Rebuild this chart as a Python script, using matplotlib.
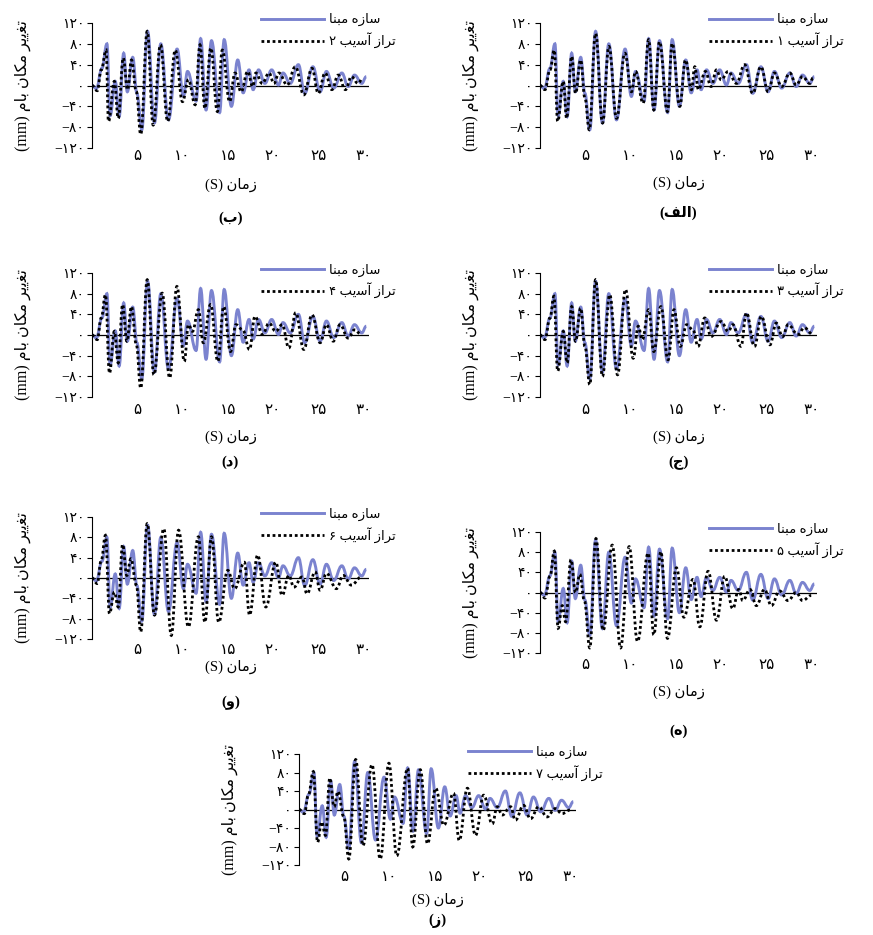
import matplotlib
matplotlib.use("Agg")
import matplotlib.pyplot as plt
from matplotlib.lines import Line2D
from matplotlib.path import Path
from matplotlib.patches import PathPatch

# ---------------- data (extrema, time in s, disp. in mm)
T_BASE = [0, 0.48, 1.1, 1.65, 2.0, 2.57, 3.0, 3.5, 3.9, 4.5, 4.96, 5.5, 6.14, 6.9, 7.6, 8.45,
          9.4, 10.1, 10.55, 11.5, 12.0, 12.6, 13.2, 14.1, 14.6, 15.4, 16.1, 16.7, 17.35, 17.8,
          18.4, 19.1, 19.85, 20.6, 21.1, 21.9, 22.8, 23.5, 24.4, 25.2, 25.9, 26.7, 27.6, 28.3,
          29.0, 29.8, 30.3]
V_BASE = [0, -6, 33, 80, -58, 8, -60, 62, -12, 54, -15, -85, 104, -72, 80, -66,
          70, -21, 27, -30, 90, -47, 86, -52, 88, -40, 49, -14, 30, -8,
          30, 4, 30, 1, 24, 4, 40, -15, 36, -12, 27, -5, 24, -2,
          20, 4, 17]

T_DMG1 = [0, 0.55, 1.1, 1.58, 1.95, 2.57, 2.94, 3.5, 3.93, 4.49, 4.96, 5.44, 6.14, 6.91, 7.61,
          8.46, 9.38, 10.1, 10.55, 11.4, 12.0, 12.57, 13.2, 14.08, 14.6, 15.44, 16.07, 16.73,
          17.1, 17.5, 18.27, 18.9, 19.5, 20.0, 20.8, 21.7, 22.6, 23.5, 24.4, 25.2, 25.9, 26.7,
          27.6, 28.3, 29.0, 29.8, 30.15]
V_DMG1 = [0, -8, 30, 68, -69, 8, -63, 56, -15, 49, -24, -85, 100, -72, 75,
          -63, 62, -12, 27, -34, 88, -47, 84, -50, 81, -40, 49, -8,
          36, -8, 27, -2, 30, 11, 27, 4, 40, -15, 36, -12, 24, -2,
          24, 1, 17, 4, 14]

T_DMG2 = [0, 0.58, 1.02, 1.56, 1.82, 2.47, 2.9, 3.45, 3.93, 4.36, 4.9, 5.38, 6.1, 6.76, 7.56,
          8.36, 9.2, 10.0, 10.65, 11.4, 11.93, 12.47, 13.13, 13.85, 14.4, 15.2, 15.8, 16.47,
          17.2, 17.75, 18.1, 18.8, 19.56, 20.1, 20.65, 21.56, 22.47, 23.4, 24.3, 25.0, 25.75,
          26.5, 27.2, 28.0, 28.65, 29.4, 29.9]
V_DMG2 = [0, -10, 30, 68, -69, 8, -63, 53, -8, 49, -12, -94, 104, -76, 78,
          -69, 68, -31, 11, -37, 78, -44, 72, -50, 68, -31, 24, -12,
          27, -2, 24, 4, 24, 4, 24, 1, 36, -18, 33, -15, 24,
          -8, 20, -8, 17, 4, 14]

T_DMG3 = [0, 0.55, 1.1, 1.54, 1.95, 2.57, 3.0, 3.5, 3.93, 4.49, 4.96, 5.5, 6.14, 6.9, 7.7,
          8.57, 9.45, 10.3, 10.85, 11.3, 12.0, 12.57, 13.35, 14.15, 14.8, 15.5, 16.2, 16.9,
          17.46, 18.2, 18.9, 20.0, 20.8, 21.3, 22.2, 22.8, 23.7, 24.45, 25.4, 26.1, 26.8,
          27.4, 28.5, 29.2, 30.15]
V_DMG3 = [0, -9, 33, 75, -70, 7, -54, 55, -12, 52, -22, -96, 107, -80, 78,
          -77, 88, -45, 17, -9, 49, -32, 55, -48, 49, -22, 20, 10,
          -22, 33, -3, 26, 7, 20, -22, 43, -22, 36, -19, 23, -3,
          20, 1, 14, 1]

T_DMG4 = [0, 0.58, 1.02, 1.49, 1.93, 2.47, 2.9, 3.38, 3.85, 4.36, 4.9, 5.38, 6.1, 6.84, 7.75,
          8.58, 9.38, 10.2, 10.65, 11.1, 11.75, 12.3, 13.1, 13.9, 14.55, 15.3, 15.9, 16.65,
          17.4, 18.0, 18.84, 19.56, 20.3, 21.0, 21.75, 22.5, 23.4, 24.3, 25.2, 25.9, 26.65,
          27.4, 28.3, 29.0, 29.75]
V_DMG4 = [0, -9, 33, 78, -74, 7, -54, 59, -12, 55, -19, -103, 107, -77, 81,
          -83, 94, -51, 20, 7, 49, -15, 59, -51, 55, -32, 20, 10,
          -28, 36, 1, 23, 7, 20, -25, 43, -28, 39, -15, 20, -12,
          20, -6, 10, 1]

T_DMG5 = [0, 0.55, 1.1, 1.58, 2.0, 2.46, 2.83, 3.42, 3.93, 4.4, 4.9, 5.5, 6.18, 6.98, 7.98,
          8.9, 9.85, 10.77, 11.95, 12.57, 13.35, 14.08, 15.07, 15.9, 16.9, 17.65, 18.57, 19.5,
          20.4, 21.3, 21.95, 22.4, 23.2, 23.9, 24.8, 25.55, 26.47, 27.4, 28.3, 29.0, 29.96]
V_DMG5 = [0, -11, 32, 82, -71, -26, -58, 65, 0, 36, -16, -110, 107, -75, 94,
          -110, 91, -97, 78, -84, 81, -91, 49, -49, 26, -68, 42, -55,
          32, -32, 6, -16, 6, -26, 6, -26, 3, -16, 0, -16, -6]

T_DMG6 = [0, 0.58, 1.02, 1.49, 1.93, 2.47, 2.9, 3.38, 3.85, 4.3, 4.9, 5.38, 6.1, 6.9, 7.93,
          8.76, 9.56, 10.65, 11.75, 12.47, 13.2, 14.0, 15.0, 15.75, 16.84, 17.4, 18.3, 19.2,
          20.3, 21.0, 21.75, 22.3, 23.2, 23.75, 24.65, 25.2, 25.9, 27.0, 27.75, 28.65, 29.75]
V_DMG6 = [0, -11, 35, 84, -70, -28, -57, 66, 5, 38, -14, -106, 107, -73, 97,
          -113, 94, -96, 81, -87, 81, -87, 15, -21, 31, -73, 45, -57,
          31, -34, 5, -18, 2, -31, 12, -24, 9, -21, 5, -14, 2]

T_DMG7 = [0, 0.59, 1.03, 1.58, 2.05, 2.5, 2.93, 3.4, 3.88, 4.3, 4.95, 5.5, 6.26, 7.07, 8.06,
          8.97, 9.93, 10.8, 12.0, 12.56, 13.4, 14.2, 15.1, 16.0, 17.07, 17.7, 18.6, 19.5,
          20.4, 21.35, 21.9, 22.45, 23.37, 23.9, 24.8, 25.57, 26.48, 27.4, 28.3, 29.05, 29.96]
V_DMG7 = [0, -9, 31, 82, -71, -27, -56, 68, 6, 39, -16, -107, 108, -78, 97,
          -107, 100, -100, 89, -81, 86, -74, 46, -34, 35, -67, 46, -56,
          31, -31, 6, -12, 6, -23, 9, -20, 6, -16, 2, -9, -1]

Y_TICKS = [-120, -80, -40, 0, 40, 80, 120]
Y_TICK_LABELS = ["\u2212\u06f1\u06f2\u06f0", "\u2212\u06f8\u06f0", "\u2212\u06f4\u06f0", "\u06f0",
                 "\u06f4\u06f0", "\u06f8\u06f0", "\u06f1\u06f2\u06f0"]
X_TICKS = [5, 10, 15, 20, 25, 30]
X_TICK_LABELS = ["\u06f5", "\u06f1\u06f0", "\u06f1\u06f5", "\u06f2\u06f0", "\u06f2\u06f5", "\u06f3\u06f0"]

# Persian strings written in visual order with presentation forms
LBL_BASE = "\ufe8e\ufee8\ufe92\ufee3 \ufee9\ufeaf\ufe8e\ufeb3"           # سازه مبنا
LBL_DMG = "{} \ufe90\ufbfe\ufeb3\ufe81 \ufeaf\ufe8d\ufeae\ufe97"            # تراز آسیب n
XLABEL = "(S) \ufee5\ufe8e\ufee3\ufeaf"                                   # زمان (S)
YLABEL = ("(mm) \ufee1\ufe8e\ufe91 \ufee5\ufe8e\ufb91\ufee3 "
          "\ufeae\ufbfe\ufbfe\ufed0\ufe97")                               # تغییر مکان بام (mm)
CAPTIONS = ["(\ufed2\ufedf\ufe8d)", "(\ufe8f)", "(\ufe9d)", "(\ufea9)", "(\ufee9)", "(\ufeed)", "(\ufeaf)"]
DIGITS = ["\u06f1", "\u06f2", "\u06f3", "\u06f4", "\u06f5", "\u06f6", "\u06f7"]

FAMILY = ["Liberation Serif", "DejaVu Sans"]
BLUE = "#7b83cf"
DOTS = (0, (1, 1))
W, H = 873, 935

# panel boxes in pixels: left spine x, top (y=120) and bottom (y=-120),
# x tick label y, xlabel y, caption y
PANELS = [
    (540, 23, 148, 156, 183, 213),   # alef
    (92, 23, 148, 156, 185, 218),    # be
    (540, 273, 397, 410, 437, 463),  # jim
    (92, 273, 397, 410, 437, 462),   # dal
    (540, 532, 653, 665, 692, 731),  # he
    (92, 517, 639, 650, 667, 703),   # vav
    (299, 754, 865, 877, 900, 921),  # ze
]
AX_W = 277
XMAX = 30.6


def smooth_path(t, v):
    # cubic segments with flat tangents at each read extremum
    verts = [(t[0], v[0])]
    codes = [Path.MOVETO]
    for i in range(1, len(t)):
        dt = (t[i] - t[i - 1]) / 2.4
        verts += [(t[i - 1] + dt, v[i - 1]), (t[i] - dt, v[i]), (t[i], v[i])]
        codes += [Path.CURVE4] * 3
    return Path(verts, codes)


def add_curve(ax, t, v, color, lw, ls, z):
    patch = PathPatch(smooth_path(t, v), facecolor="none", edgecolor=color, lw=lw,
                      linestyle=ls, zorder=z, transform=ax.transData)
    ax.add_patch(patch)


def draw_panel(fig, box, t_d, v_d, idx):
    x0, ytop, ybot, ytick, yxl, ycap = box
    ax = fig.add_axes([x0 / W, 1 - ybot / H, AX_W / W, (ybot - ytop) / H])
    ax.set_xlim(0, XMAX)
    ax.set_ylim(-120, 120)
    for s in ("top", "right", "bottom"):
        ax.spines[s].set_visible(False)
    ax.spines["left"].set_linewidth(0.8)
    ax.axhline(0, color="black", lw=0.9, zorder=1)

    add_curve(ax, T_BASE, V_BASE, BLUE, 2.1, "-", 2)
    add_curve(ax, t_d, v_d, "black", 2.0, DOTS, 3)

    ax.set_yticks(Y_TICKS)
    ax.set_yticklabels(Y_TICK_LABELS, family=FAMILY, fontsize=10)
    ax.tick_params(axis="y", direction="out", length=3.5, width=0.8, pad=2)
    ax.set_xticks(X_TICKS)
    ax.set_xticklabels(X_TICK_LABELS, family=FAMILY, fontsize=11)
    ax.tick_params(axis="x", length=0, pad=(ytick - ybot) * 0.72 - 4)

    ax.text(-0.25, 0.5, YLABEL, rotation=90, transform=ax.transAxes, ha="center",
            va="center", family=FAMILY, fontsize=11.5)
    cx = (x0 + AX_W / 2) / W
    fig.text(cx, 1 - yxl / H, XLABEL, ha="center", va="center", family=FAMILY, fontsize=10.5)
    fig.text(cx, 1 - ycap / H, CAPTIONS[idx], ha="center", va="center", family=FAMILY,
             fontsize=10.5, fontweight="bold")

    handles = [
        Line2D([], [], color=BLUE, lw=2.1),
        Line2D([], [], color="black", lw=2.0, ls=DOTS),
    ]
    labels = [LBL_BASE, LBL_DMG.format(DIGITS[idx])]
    ax.legend(handles, labels, loc="upper right", bbox_to_anchor=(1.115, 1.12),
              frameon=False, handlelength=4.8, handletextpad=0.35, labelspacing=0.45,
              borderaxespad=0, prop={"family": FAMILY, "size": 9.5})
    return ax


def main():
    fig = plt.figure(figsize=(W / 100, H / 100), dpi=100)
    series = [(T_DMG1, V_DMG1), (T_DMG2, V_DMG2), (T_DMG3, V_DMG3), (T_DMG4, V_DMG4),
              (T_DMG5, V_DMG5), (T_DMG6, V_DMG6), (T_DMG7, V_DMG7)]
    for i, (box, (t_d, v_d)) in enumerate(zip(PANELS, series)):
        draw_panel(fig, box, t_d, v_d, i)
    fig.savefig("out.png", dpi=100)
    plt.close(fig)


if __name__ == "__main__":
    main()
